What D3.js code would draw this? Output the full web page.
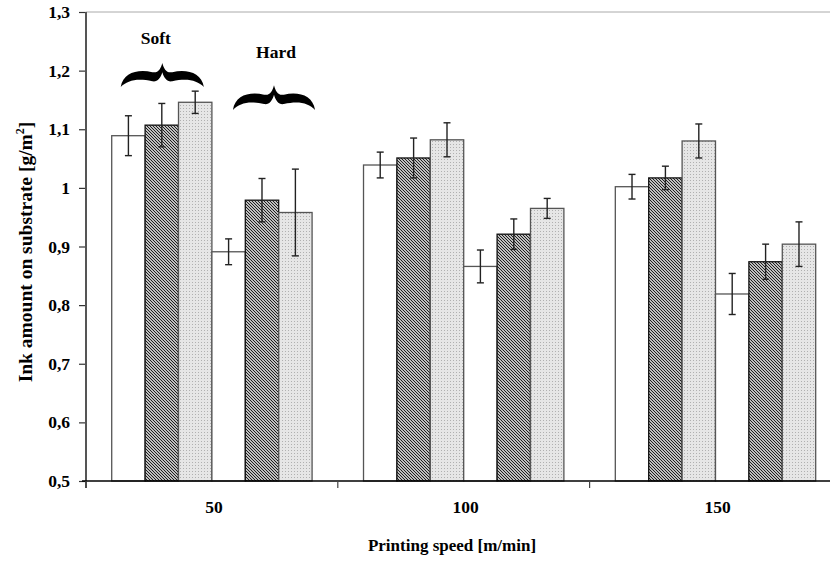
<!DOCTYPE html>
<html lang="en">
	<head>
		<meta charset="utf-8">
		<title>Ink amount vs printing speed</title>
		<script type="text/javascript" src="https://cdn.jsdelivr.net/npm/d3@7"></script>
		<style type="text/css">
			body { margin: 0; background: white; }
			text {
				font-family: "Liberation Serif", "Times New Roman", serif;
				font-weight: bold;
				fill: black;
			}
		</style>
	</head>
	<body>
		<script type="text/javascript">

			// SVG size
			var w = 830;
			var h = 562;
			var margin = {top: 12, left: 86, bottom: 81};

			// Data
			var speeds = ["50", "100", "150"];
			var yTicks = [0.5, 0.6, 0.7, 0.8, 0.9, 1.0, 1.1, 1.2, 1.3];

			var softPlain   = [1.089, 1.039, 1.002];
			var softHatched = [1.107, 1.051, 1.017];
			var softDotted  = [1.146, 1.082, 1.080];
			var hardPlain   = [0.891, 0.866, 0.819];
			var hardHatched = [0.979, 0.921, 0.874];
			var hardDotted  = [0.958, 0.965, 0.904];

			var softPlainErr   = [0.034, 0.022, 0.021];
			var softHatchedErr = [0.037, 0.034, 0.020];
			var softDottedErr  = [0.019, 0.029, 0.029];
			var hardPlainErr   = [0.022, 0.028, 0.035];
			var hardHatchedErr = [0.037, 0.026, 0.030];
			var hardDottedErr  = [0.074, 0.017, 0.038];

			var seriesVals = [softPlain, softHatched, softDotted, hardPlain, hardHatched, hardDotted];
			var seriesErrs = [softPlainErr, softHatchedErr, softDottedErr, hardPlainErr, hardHatchedErr, hardDottedErr];
			var seriesFill = ["white", "url(#hatch)", "url(#dots)", "white", "url(#hatch)", "url(#dots)"];

			// build flat list of bars
			var bars = [];
			speeds.forEach(function(s, i) {
				seriesVals.forEach(function(vals, j) {
					bars.push({speed: s, idx: j, value: vals[i], err: seriesErrs[j][i]});
				});
			});

			var svg = d3.select("body")
						.append("svg")
						.attr("width", w)
						.attr("height", h);

			// patterns
			var defs = svg.append("defs");
			var hatch = defs.append("pattern")
				.attr("id", "hatch")
				.attr("patternUnits", "userSpaceOnUse")
				.attr("width", 3)
				.attr("height", 3);
			hatch.append("rect").attr("width", 3).attr("height", 3).attr("fill", "white");
			hatch.append("path")
				.attr("d", "M-1,-1 L4,4 M-1,2 L1,4 M2,-1 L4,1")
				.attr("stroke", "#111")
				.attr("stroke-width", 1.05);

			var dots = defs.append("pattern")
				.attr("id", "dots")
				.attr("patternUnits", "userSpaceOnUse")
				.attr("width", 3)
				.attr("height", 3);
			dots.append("rect").attr("width", 3).attr("height", 3).attr("fill", "#e6e6e6");
			dots.append("rect").attr("width", 1).attr("height", 1).attr("fill", "#b0b0b0");

			// scales
			var plotBottom = h - margin.bottom;
			var x = d3.scaleBand()
				.domain(speeds)
				.range([margin.left, margin.left + 3 * 251.8]);
			var x1 = d3.scaleBand()
				.domain(d3.range(6))
				.range([0, x.bandwidth()])
				.paddingOuter(0.77);
			var y = d3.scaleLinear()
				.domain([0.5, 1.3])
				.range([plotBottom, margin.top]);

			// top frame line
			svg.append("line")
				.attr("x1", margin.left).attr("x2", w)
				.attr("y1", y(1.3)).attr("y2", y(1.3))
				.attr("stroke", "#aaa")
				.attr("stroke-width", 1);

			// bars
			svg.selectAll("rect.bar")
				.data(bars)
				.enter()
				.append("rect")
				.attr("class", "bar")
				.attr("x", function(d) { return x(d.speed) + x1(d.idx); })
				.attr("y", function(d) { return y(d.value); })
				.attr("width", x1.bandwidth())
				.attr("height", function(d) { return plotBottom - y(d.value); })
				.attr("fill", function(d) { return seriesFill[d.idx]; })
				.attr("stroke", function(d) { return d.idx % 3 == 1 ? "#111" : "#555"; })
				.attr("stroke-width", 1.3);

			// error bars
			var eb = svg.selectAll("g.err")
				.data(bars)
				.enter()
				.append("g")
				.attr("class", "err")
				.attr("stroke", "#222")
				.attr("stroke-width", 1.4);
			var cx = function(d) { return x(d.speed) + x1(d.idx) + x1.bandwidth() / 2; };
			eb.append("line")
				.attr("x1", cx).attr("x2", cx)
				.attr("y1", function(d) { return y(d.value + d.err); })
				.attr("y2", function(d) { return y(d.value - d.err); });
			eb.append("line")
				.attr("x1", function(d) { return cx(d) - 3.5; })
				.attr("x2", function(d) { return cx(d) + 3.5; })
				.attr("y1", function(d) { return y(d.value + d.err); })
				.attr("y2", function(d) { return y(d.value + d.err); });
			eb.append("line")
				.attr("x1", function(d) { return cx(d) - 3.5; })
				.attr("x2", function(d) { return cx(d) + 3.5; })
				.attr("y1", function(d) { return y(d.value - d.err); })
				.attr("y2", function(d) { return y(d.value - d.err); });

			// y axis
			var yAxis = d3.axisLeft(y)
				.tickValues(yTicks)
				.tickSize(7)
				.tickPadding(9)
				.tickFormat(function(d) { return d3.format(".1f")(d).replace(".0", "").replace(".", ","); });
			var gy = svg.append("g")
				.attr("transform", "translate(" + margin.left + ",0)")
				.call(yAxis);
			gy.select(".domain").remove();
			gy.append("line")
				.attr("x1", 0).attr("x2", 0)
				.attr("y1", y(1.3)).attr("y2", plotBottom + 7)
				.attr("stroke", "#555").attr("stroke-width", 2);
			gy.selectAll(".tick line").attr("stroke", "#333").attr("stroke-width", 1.2);
			gy.selectAll(".tick text")
				.style("font-size", "17.5px")
				.attr("fill", "black");

			// x axis
			var gx = svg.append("g")
				.attr("transform", "translate(0," + plotBottom + ")");
			gx.append("line")
				.attr("x1", margin.left - 4).attr("x2", w)
				.attr("y1", 0).attr("y2", 0)
				.attr("stroke", "black").attr("stroke-width", 1.5);
			gx.selectAll("line.xt")
				.data(speeds)
				.enter()
				.append("line")
				.attr("class", "xt")
				.attr("x1", function(d) { return x(d); })
				.attr("x2", function(d) { return x(d); })
				.attr("y1", 0).attr("y2", 7)
				.attr("stroke", "#444").attr("stroke-width", 1.2);
			gx.selectAll("text.xl")
				.data(speeds)
				.enter()
				.append("text")
				.attr("class", "xl")
				.attr("x", function(d) { return x(d) + x.bandwidth() / 2 + 2; })
				.attr("y", 32)
				.attr("text-anchor", "middle")
				.style("font-size", "17.5px")
				.text(function(d) { return d; });

			// axis titles
			svg.append("text")
				.attr("x", 452)
				.attr("y", 551)
				.attr("text-anchor", "middle")
				.style("font-size", "17px")
				.text("Printing speed [m/min]");

			var yt = svg.append("text")
				.attr("transform", "translate(32,252) rotate(-90)")
				.attr("text-anchor", "middle")
				.style("font-size", "19.5px");
			yt.append("tspan").text("Ink amount on substrate [g/m");
			yt.append("tspan").attr("dy", -8).style("font-size", "12px").text("2");
			yt.append("tspan").attr("dy", 8).text("]");

			// curly braces above the 50 group
			function brace(x0, x1b, yTop, yBot) {
				var bw = x1b - x0, bh = yBot - yTop;
				var P = function(u, v) { return (x0 + u * bw) + "," + (yTop + v * bh); };
				return "M" + P(0, 1) +
					" C" + P(0.03, 0.4) + " " + P(0.2, 0.25) + " " + P(0.38, 0.38) +
					" C" + P(0.45, 0.43) + " " + P(0.48, 0.25) + " " + P(0.5, 0) +
					" C" + P(0.52, 0.25) + " " + P(0.55, 0.43) + " " + P(0.62, 0.38) +
					" C" + P(0.8, 0.25) + " " + P(0.97, 0.4) + " " + P(1, 1) +
					" C" + P(0.92, 0.72) + " " + P(0.8, 0.62) + " " + P(0.62, 0.76) +
					" C" + P(0.56, 0.8) + " " + P(0.52, 0.62) + " " + P(0.5, 0.38) +
					" C" + P(0.48, 0.62) + " " + P(0.44, 0.8) + " " + P(0.38, 0.76) +
					" C" + P(0.2, 0.62) + " " + P(0.08, 0.72) + " " + P(0, 1) + " Z";
			}

			var g50 = x("50");
			svg.append("path")
				.attr("d", brace(g50 + x1(0) + 9, g50 + x1(2) + x1.bandwidth() - 8, y(1.213), y(1.172)))
				.attr("fill", "black");
			svg.append("text")
				.attr("x", g50 + x1(1) + x1.bandwidth() / 2 - 6)
				.attr("y", 44)
				.attr("text-anchor", "middle")
				.style("font-size", "17.5px")
				.text("Soft");

			svg.append("path")
				.attr("d", brace(g50 + x1(3) + 21, g50 + x1(5) + x1.bandwidth() + 3, y(1.175), y(1.133)))
				.attr("fill", "black");
			svg.append("text")
				.attr("x", g50 + x1(4) + x1.bandwidth() / 2 + 14)
				.attr("y", 58)
				.attr("text-anchor", "middle")
				.style("font-size", "17.5px")
				.text("Hard");

		</script>
	</body>
</html>
